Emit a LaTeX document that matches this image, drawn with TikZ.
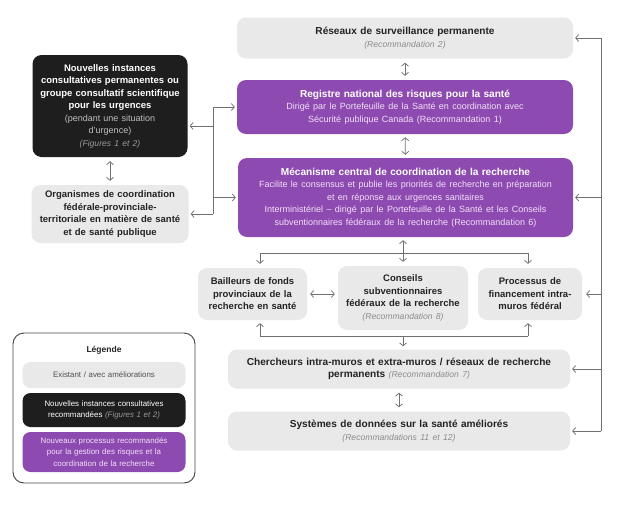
\documentclass[tikz,border=0pt]{standalone}
\usepackage{fontspec}
\setmainfont{Liberation Sans}
\usepackage{xcolor}
\usetikzlibrary{arrows.meta, positioning, calc}

\definecolor{boxgray}{RGB}{233,233,233}
\definecolor{regpurple}{RGB}{141,74,177}
\definecolor{advblack}{RGB}{30,30,30}
\definecolor{paletext}{RGB}{243,224,248}
\definecolor{subgray}{RGB}{140,140,140}
\definecolor{linegray}{RGB}{112,112,116}
\definecolor{titlegray}{RGB}{35,35,35}

\newcommand{\titlefont}{\fontsize{9.5}{12.5}\selectfont\bfseries}
\newcommand{\widetitlefont}{\fontsize{10.1}{12.5}\selectfont\bfseries}
\newcommand{\bodyfont}{\fontsize{9}{12.5}\selectfont\mdseries}
\newcommand{\subfont}{\fontsize{8.6}{12.5}\selectfont\mdseries\itshape}
\newcommand{\legfont}{\fontsize{7.9}{11.5}\selectfont}

\tikzstyle{existbox} = [rectangle, rounded corners=9pt, fill=boxgray, text=titlegray, align=center, inner xsep=3pt, inner ysep=2pt, font=\titlefont]
\tikzstyle{widebox} = [existbox, font=\widetitlefont]
\tikzstyle{purplebox} = [widebox, fill=regpurple, text=white]
\tikzstyle{blackbox} = [existbox, fill=advblack, text=white]
\tikzstyle{legendframe} = [rectangle, draw=titlegray!85, line width=0.9pt, rounded corners=11pt]
\tikzstyle{line} = [draw=linegray, line width=0.75pt, -{Straight Barb[length=3pt,width=7pt]}, shorten >=2pt]
\tikzstyle{dblline} = [line, {Straight Barb[length=3pt,width=7pt]}-{Straight Barb[length=3pt,width=7pt]}, shorten <=4pt, shorten >=4pt]
\tikzstyle{bus} = [draw=linegray, line width=0.75pt]

\begin{document}
\begin{tikzpicture}[x=1pt, y=-1pt]
    \useasboundingbox (0,0) rectangle (623,514);

    % Nodes
    \node [widebox, text width=330pt, minimum height=41pt] (surv) at (405,38)
        {Réseaux de surveillance permanente\\{\subfont\color{subgray}(Recommandation 2)}};
    \node [purplebox, text width=330pt, minimum height=54pt] (registre) at (405,107)
        {Registre national des risques pour la santé\\
         {\bodyfont\color{paletext}Dirigé par le Portefeuille de la Santé en coordination avec\\
         Sécurité publique Canada (Recommandation 1)}};
    \node [purplebox, text width=329pt, minimum height=79pt] (mecan) at (405.5,197.5)
        {Mécanisme central de coordination de la recherche\\
         {\bodyfont\color{paletext}Facilite le consensus et publie les priorités de recherche en préparation\\
         et en réponse aux urgences sanitaires\\
         Interministériel – dirigé par le Portefeuille de la Santé et les Conseils\\
         subventionnaires fédéraux de la recherche (Recommandation 6)}};

    % Advisory side
    \node [blackbox, text width=149pt, minimum height=102pt] (nouv) at (110,106)
        {Nouvelles instances\\consultatives permanentes ou\\groupe consultatif scientifique\\pour les urgences\\
         {\bodyfont\color{white!75!black}(pendant une situation\\d’urgence)\\}
         {\subfont\color{white!60!black}(Figures 1 et 2)}};
    \node [existbox, text width=151pt, minimum height=58pt] (organ) at (110,214)
        {Organismes de coordination\\fédérale-provinciale-\\territoriale en matière de santé\\et de santé publique};

    % Funders
    \node [existbox, text width=103pt, minimum height=52pt] (bail) at (252.5,294)
        {Bailleurs de fonds\\provinciaux de la\\recherche en santé};
    \node [existbox, text width=124pt, minimum height=64pt] (cons) at (403,298)
        {Conseils\\subventionnaires\\fédéraux de la recherche\\{\subfont\color{subgray}(Recommandation 8)}};
    \node [existbox, text width=98pt, minimum height=52pt] (proc) at (530,294)
        {Processus de\\financement intra-\\muros fédéral};

    % Researchers and data
    \node [widebox, text width=336pt, minimum height=39pt] (cherch) at (399,369)
        {Chercheurs intra-muros et extra-muros / réseaux de recherche\\
         permanents {\subfont\color{subgray}(Recommandation 7)}};
    \node [widebox, text width=336pt, minimum height=39pt] (syst) at (399,431)
        {Systèmes de données sur la santé améliorés\\{\subfont\color{subgray}(Recommandations 11 et 12)}};

    % Legend
    \node [legendframe, minimum width=182pt, minimum height=150pt] (legend) at (104,408) {};
    \node [font=\fontsize{8.5}{10}\selectfont\bfseries, text=titlegray] (legtitle) at (104,350) {Légende};
    \node [existbox, font=\legfont, text=titlegray!80, rounded corners=8pt, text width=157pt, minimum height=26pt] (legexist) at (104,375)
        {Existant / avec améliorations};
    \node [blackbox, font=\legfont, rounded corners=8pt, text width=157pt, minimum height=34pt] (legnew) at (104,410)
        {Nouvelles instances consultatives\\recommandées {\itshape\color{white!60!black}(Figures 1 et 2)}};
    \node [purplebox, font=\legfont, text=paletext, rounded corners=8pt, text width=157pt, minimum height=40pt] (legproc) at (104,452)
        {Nouveaux processus recommandés\\pour la gestion des risques et la\\coordination de la recherche};

    % Coordinates for the buses
    \coordinate (lbus) at (213,0);
    \coordinate (rbus) at (601,0);
    \coordinate (nouvin) at ([yshift=-20pt]nouv.east);
    \coordinate (tl) at (260,253);
    \coordinate (tr) at (528,253);
    \coordinate (bl) at (260,336);
    \coordinate (br) at (528,336);

    % Lines
    \path [dblline] (surv) -- (registre);
    \path [dblline, shorten <=3pt, shorten >=3pt] (registre) -- (mecan);
    \path [dblline] (nouv) -- (organ);
    \path [dblline, shorten <=3pt, shorten >=3pt] (bail) -- (bail -| cons.west);
    \path [dblline] (cherch) -- (syst);

    % Left bus
    \path [bus] (registre.west -| lbus) -- (organ.east -| lbus);
    \path [line] (registre.west -| lbus) -- (registre.west);
    \path [line] (mecan.west -| lbus) -- (mecan.west);
    \path [line] (nouvin -| lbus) -- (nouvin);
    \path [line] (organ.east -| lbus) -- (organ.east);

    % Right bus
    \path [bus] (surv.east -| rbus) -- (syst.east -| rbus);
    \path [line] (surv.east -| rbus) -- (surv.east);
    \path [line] (mecan.east -| rbus) -- (mecan.east);
    \path [line, shorten >=4pt] (proc.east -| rbus) -- (proc.east);
    \path [line] (cherch.east -| rbus) -- (cherch.east);
    \path [line] (syst.east -| rbus) -- (syst.east);

    % Funding rows
    \path [bus] (tl) -- (tr);
    \path [line, shorten >=4pt] (tl) -- (tl |- bail.north);
    \path [line, shorten >=4pt] (tr) -- (tr |- proc.north);
    \path [dblline, shorten <=3pt] (cons.north |- mecan.south) -- (cons.north);
    \path [bus] (bl) -- (br);
    \path [line, shorten >=3pt, shorten <=0pt] (bl) -- (bl |- bail.south);
    \path [line, shorten >=3pt, shorten <=0pt] (br) -- (br |- proc.south);
    \path [line, shorten >=3pt] (bl -| cons.south) -- (cons.south |- cherch.north);
\end{tikzpicture}
\end{document}
